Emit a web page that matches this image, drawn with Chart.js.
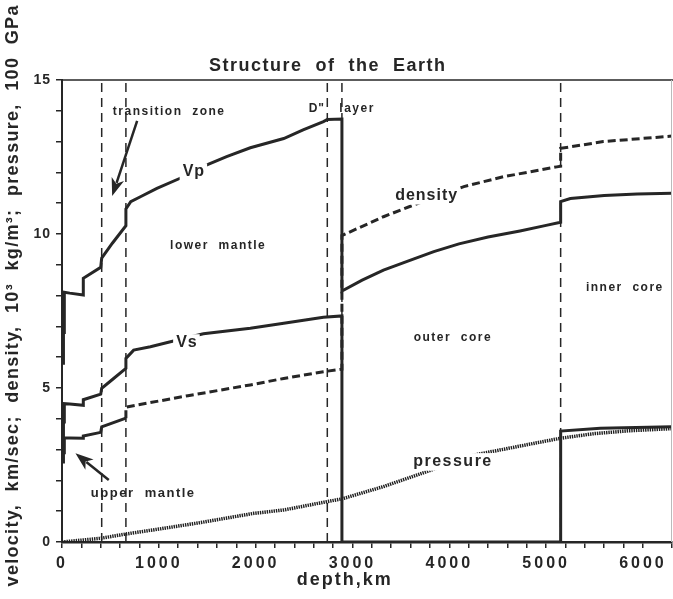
<!DOCTYPE html>
<html>
<head>
<meta charset="utf-8">
<script src="https://cdn.jsdelivr.net/npm/chart.js@4.4.1/dist/chart.umd.min.js"></script>
<style>
  html, body { margin: 0; padding: 0; background: #fff; }
  #wrap { width: 673px; height: 599px; position: relative; }
</style>
</head>
<body>
<div id="wrap"><canvas id="earthChart"></canvas></div>
<script>
// Radial profiles of the Earth, depth in km
const vpDepth = [0, 15, 15, 24, 24, 80, 220, 220, 400, 410, 520, 660, 660, 710, 810, 980, 1220, 1460, 1700, 1945, 2290, 2490, 2700, 2740, 2891, 2891, 3100, 3320, 3600, 3840, 4100, 4400, 4730, 5000, 5150, 5150, 5250, 5600, 5940, 6300];
const vpVal   = [5.8, 5.8, 6.8, 6.8, 8.11, 8.08, 8.02, 8.56, 8.92, 9.22, 9.7, 10.27, 10.81, 11.05, 11.21, 11.48, 11.81, 12.2, 12.51, 12.8, 13.1, 13.38, 13.65, 13.72, 13.73, 8.15, 8.5, 8.83, 9.15, 9.43, 9.68, 9.9, 10.1, 10.28, 10.38, 11.05, 11.15, 11.25, 11.3, 11.32];

const vsDepth = [0, 15, 15, 24, 24, 80, 220, 220, 400, 410, 530, 660, 660, 740, 913, 1120, 1460, 1945, 2290, 2700, 2891, 2891, 5150, 5150, 5560, 6300];
const vsVal   = [3.2, 3.2, 3.9, 3.9, 4.49, 4.48, 4.44, 4.62, 4.8, 4.99, 5.3, 5.64, 5.96, 6.23, 6.34, 6.5, 6.76, 6.94, 7.1, 7.3, 7.34, 0, 0, 3.6, 3.69, 3.74];

const rhoDepth = [0, 15, 15, 24, 24, 80, 220, 220, 400, 410, 660, 660, 1300, 1945, 2290, 2700, 2891, 2891, 3320, 3630, 4150, 4560, 5110, 5150, 5150, 5590, 6300];
const rhoVal   = [2.6, 2.6, 2.9, 2.9, 3.38, 3.38, 3.37, 3.44, 3.56, 3.74, 4.02, 4.38, 4.75, 5.1, 5.31, 5.53, 5.61, 9.95, 10.56, 10.94, 11.54, 11.86, 12.18, 12.2, 12.78, 13.0, 13.18];

const pDepth = [0, 400, 660, 1000, 1430, 1980, 2290, 2737, 2891, 3321, 3717, 4250, 4869, 5150, 5500, 5850, 6300];
const pVal   = [0, 0.12, 0.26, 0.42, 0.63, 0.93, 1.04, 1.31, 1.4, 1.8, 2.23, 2.82, 3.2, 3.37, 3.52, 3.61, 3.68];

// discontinuities marked with dashed verticals
const boundaryDepth = [410, 660, 2740, 2891, 5150];

// labelled values on the left axis
const yTickLabels = [0, 5, 10, 15];

// annotations placed in data units (km, value)
const notes = [
  { text: 'transition  zone', x: 1099, y: 13.96, size: 12, sp: 1.5 },
  { text: 'Vp',               x: 1357, y: 12.01, size: 16, sp: 1, clear: true },
  { text: 'lower  mantle',    x: 1605, y: 9.61,  size: 12, sp: 1.5 },
  { text: 'Vs',               x: 1285, y: 6.46,  size: 16, sp: 1, clear: true },
  { text: 'upper  mantle',    x: 831,  y: 1.59,  size: 13, sp: 1.5 },
  { text: 'D"',               x: 2627, y: 14.06, size: 12, sp: 1 },
  { text: 'layer',            x: 3040, y: 14.06, size: 12, sp: 1.5 },
  { text: 'density',          x: 3761, y: 11.24, size: 16, sp: 1, clear: true },
  { text: 'outer  core',      x: 4030, y: 6.62,  size: 12, sp: 1.5 },
  { text: 'pressure',         x: 4030, y: 2.6,   size: 16, sp: 1.5, clear: true },
  { text: 'inner  core',      x: 5805, y: 8.25,  size: 12, sp: 1.5 }
];
const arrows = [
  { from: [776, 13.67], to: [518, 11.23] },
  { from: [483, 2.01],  to: [139, 2.88] }
];

const INK = '#262626';
const FONT = '"Liberation Sans", Arial, Helvetica, sans-serif';

const pairs = (xs, ys) => xs.map((x, i) => ({ x, y: ys[i] }));

function drawText(ctx, str, x, y, size, sp, clear, align) {
  ctx.save();
  ctx.font = `bold ${size}px ${FONT}`;
  ctx.letterSpacing = sp + 'px';
  ctx.textAlign = align || 'center';
  ctx.textBaseline = 'middle';
  const w = ctx.measureText(str).width - sp;
  if (clear) {
    ctx.fillStyle = '#fff';
    ctx.fillRect(x - w / 2 - 3, y - size * 0.55, w + 6, size * 1.1);
  }
  ctx.fillStyle = INK;
  ctx.fillText(str, align === 'right' ? x + sp : x + sp / 2, y);
  ctx.restore();
}

function drawArrow(ctx, x0, y0, x1, y1) {
  const a = Math.atan2(y1 - y0, x1 - x0);
  const len = 18, half = 6.5;
  const bx = x1 - len * Math.cos(a), by = y1 - len * Math.sin(a);
  ctx.save();
  ctx.strokeStyle = INK;
  ctx.fillStyle = INK;
  ctx.lineWidth = 2.5;
  ctx.beginPath();
  ctx.moveTo(x0, y0);
  ctx.lineTo(bx + 4 * Math.cos(a), by + 4 * Math.sin(a));
  ctx.stroke();
  ctx.beginPath();
  ctx.moveTo(x1, y1);
  ctx.lineTo(bx - half * Math.sin(a), by + half * Math.cos(a));
  ctx.lineTo(bx + 5 * Math.cos(a), by + 5 * Math.sin(a));
  ctx.lineTo(bx + half * Math.sin(a), by - half * Math.cos(a));
  ctx.closePath();
  ctx.fill();
  ctx.restore();
}

const decorations = {
  id: 'decorations',
  beforeDraw(chart) {
    // spaced digits on the depth labels
    chart.ctx.letterSpacing = '3px';
  },
  beforeDatasetsDraw(chart) {
    chart.ctx.letterSpacing = '0px';
  },
  afterDatasetsDraw(chart) {
    const { ctx, chartArea: ca, scales: { x, y } } = chart;
    // frame top and right
    ctx.save();
    ctx.strokeStyle = INK;
    ctx.lineWidth = 1.5;
    ctx.beginPath();
    ctx.moveTo(ca.left, ca.top);
    ctx.lineTo(ca.right + 1, ca.top);
    ctx.stroke();
    ctx.strokeStyle = '#bbb';
    ctx.lineWidth = 1;
    ctx.beginPath();
    ctx.moveTo(ca.right - 0.5, ca.top);
    ctx.lineTo(ca.right - 0.5, ca.bottom);
    ctx.stroke();
    ctx.restore();

    yTickLabels.forEach(v => drawText(ctx, String(v), ca.left - 12, y.getPixelForValue(v), 14, 1, false, 'right'));

    notes.forEach(n => drawText(ctx, n.text, x.getPixelForValue(n.x), y.getPixelForValue(n.y), n.size, n.sp, n.clear));
    arrows.forEach(a => drawArrow(ctx,
      x.getPixelForValue(a.from[0]), y.getPixelForValue(a.from[1]),
      x.getPixelForValue(a.to[0]), y.getPixelForValue(a.to[1])));

    // titles
    drawText(ctx, 'Structure  of  the  Earth', 327, 66, 18, 1.5);
    drawText(ctx, 'depth,km', x.getPixelForValue(2910), 580, 18, 2);
    ctx.save();
    ctx.translate(13, 296);
    ctx.rotate(-Math.PI / 2);
    drawText(ctx, 'velocity,  km/sec;  density,  10³  kg/m³;  pressure,  100  GPa', 0, 0, 18, 1.3);
    ctx.restore();
  }
};

const curve = (data, extra) => Object.assign({
  data, showLine: true, pointRadius: 0, borderColor: INK, borderWidth: 3,
  tension: 0, order: 1, borderJoinStyle: 'miter', borderCapStyle: 'butt'
}, extra);

const datasets = [
  curve(pairs(vpDepth, vpVal), {}),
  curve(pairs(vsDepth, vsVal), {}),
  curve(pairs(rhoDepth, rhoVal), {
    segment: { borderDash: c => c.p0.parsed.x < 660 ? [] : [8, 4] }
  }),
  curve(pairs(pDepth, pVal), { borderColor: '#1e1e1e', borderWidth: 3.5, borderDash: [1.4, 0.9] })
];
boundaryDepth.forEach(d => datasets.push(curve([{ x: d, y: 0 }, { x: d, y: 15 }], {
  borderWidth: 1.5, borderDash: [9, 6], order: 10
})));

new Chart(document.getElementById('earthChart'), {
  type: 'scatter',
  data: { datasets },
  options: {
    responsive: true,
    maintainAspectRatio: false,
    animation: false,
    layout: { padding: { top: 80, right: 1, left: 0, bottom: 0 } },
    plugins: { legend: { display: false }, tooltip: { enabled: false } },
    scales: {
      x: {
        type: 'linear', min: 0, max: 6300,
        afterFit: s => { s.height = 57; s.paddingLeft = 0; s.paddingRight = 0; },
        border: { display: true, color: INK, width: 2.5 },
        grid: { drawOnChartArea: false, drawTicks: true, tickLength: 6, color: INK, lineWidth: 1.5 },
        ticks: {
          stepSize: 200, autoSkip: false, maxRotation: 0, padding: 6, color: INK,
          font: { family: FONT, size: 16, weight: 'bold' },
          callback: v => (v % 1000 === 0 ? String(v) : '')
        }
      },
      y: {
        type: 'linear', min: 0, max: 15,
        afterFit: s => { s.width = 62; s.paddingTop = 0; s.paddingBottom = 0; },
        border: { display: true, color: INK, width: 2 },
        grid: { drawOnChartArea: false, drawTicks: true, tickLength: 6, color: INK, lineWidth: 1.5 },
        ticks: {
          stepSize: 1, autoSkip: false, padding: 2, color: INK,
          font: { family: FONT, size: 14, weight: 'bold' },
          callback: () => ''
        }
      }
    }
  },
  plugins: [decorations]
});
</script>
</body>
</html>
